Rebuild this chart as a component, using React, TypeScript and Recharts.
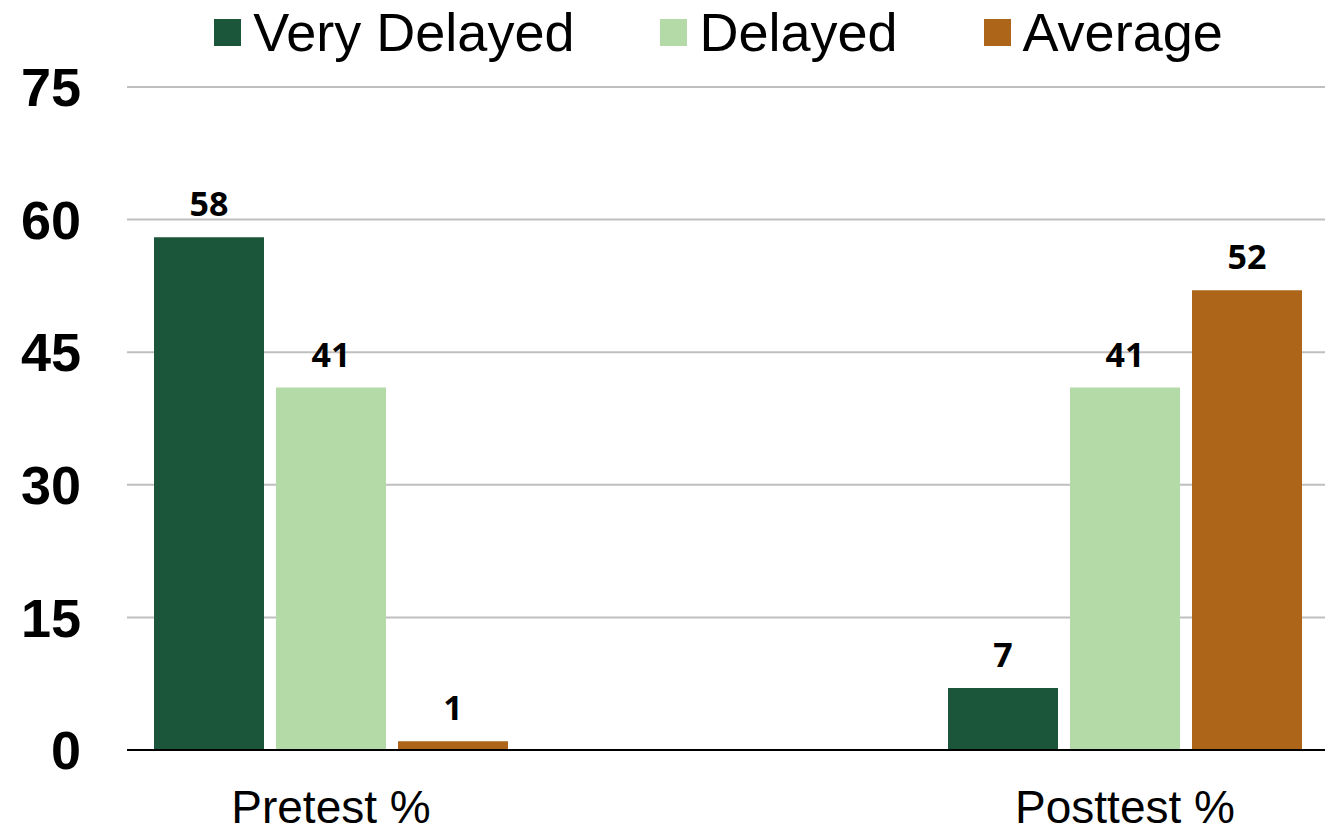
import React from 'react';
import { BarChart, Bar, XAxis, YAxis, CartesianGrid, Legend, LabelList } from 'recharts';

const categories = ['Pretest %', 'Posttest %'];
const veryDelayed = [58, 7];
const delayed = [41, 41];
const average = [1, 52];
const yTicks = [0, 15, 30, 45, 60, 75];

const series = [
  { key: 'veryDelayed', name: 'Very Delayed', color: '#1B553A' },
  { key: 'delayed', name: 'Delayed', color: '#B4DAA8' },
  { key: 'average', name: 'Average', color: '#AD6619' },
];

const data = categories.map((name, i) => ({
  name,
  veryDelayed: veryDelayed[i],
  delayed: delayed[i],
  average: average[i],
}));

const ARIAL = '"Liberation Sans", Arial, sans-serif';

const LegendContent = () => (
  <div style={{ height: 87, display: 'flex', justifyContent: 'center', paddingLeft: 198, boxSizing: 'border-box' }}>
    {series.map((s) => (
      <div key={s.key} style={{ display: 'flex', alignItems: 'center', marginRight: 86, height: 64 }}>
        <span style={{ width: 27, height: 27, background: s.color, display: 'inline-block', marginRight: 12 }} />
        <span style={{ fontFamily: ARIAL, fontSize: 54, color: '#000', lineHeight: 1 }}>{s.name}</span>
      </div>
    ))}
  </div>
);

export default function App() {
  return (
    <div style={{ position: 'absolute', left: 0, top: 0, background: '#fff' }}>
      <BarChart
        width={1325}
        height={836}
        data={data}
        margin={{ top: 0, right: 0, bottom: 0, left: 0 }}
        barSize={110}
        barGap={12}
      >
        <CartesianGrid vertical={false} stroke="#BFBFBF" strokeWidth={2} />
        <XAxis
          dataKey="name"
          height={86}
          padding={{ left: -193, right: -197 }}
          axisLine={{ stroke: '#000', strokeWidth: 2 }}
          tickLine={false}
          tickSize={0}
          tickMargin={40}
          tick={{ fontFamily: ARIAL, fontSize: 46, fill: '#000' }}
        />
        <YAxis
          width={127}
          domain={[0, 75]}
          ticks={yTicks}
          axisLine={false}
          tickLine={false}
          tickSize={0}
          tickMargin={46}
          tick={{ fontFamily: ARIAL, fontSize: 54, fontWeight: 'bold', fill: '#000' }}
        />
        <Legend verticalAlign="top" align="center" content={<LegendContent />} />
        {series.map((s) => (
          <Bar key={s.key} dataKey={s.key} name={s.name} fill={s.color} isAnimationActive={false}>
            <LabelList
              dataKey={s.key}
              position="top"
              offset={21}
              style={{ fontFamily: '"Open Sans", sans-serif', fontSize: 34, fontWeight: 'bold', fill: '#000' }}
            />
          </Bar>
        ))}
      </BarChart>
    </div>
  );
}
